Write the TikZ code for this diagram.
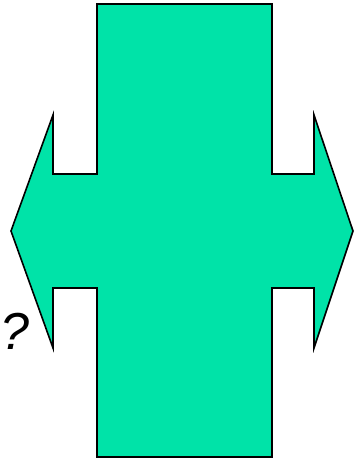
\documentclass[tikz,border=0pt]{standalone}
\usepackage{fontspec}
\setmainfont{Liberation Sans}
\definecolor{crossgreen}{RGB}{0,227,168}
\begin{document}
\begin{tikzpicture}[x=1pt,y=-1pt,
  shapestyle/.style={fill=crossgreen,draw=black,line width=1.6pt,line join=miter},
  qmark/.style={font=\fontsize{52}{56}\selectfont\itshape,inner sep=0pt}]
\useasboundingbox (0,0) rectangle (354,460);
\draw[shapestyle] (97,4) -- (272,4) -- (272,174) -- (314,174) -- (314,115) -- (353,231) -- (314,348) -- (314,288) -- (272,288) -- (272,457) -- (97,457) -- (97,288) -- (53,288) -- (53,348) -- (11,231) -- (53,115) -- (53,174) -- (97,174) -- cycle;
\node[qmark] (q) at (15,331) {?};
\end{tikzpicture}
\end{document}
